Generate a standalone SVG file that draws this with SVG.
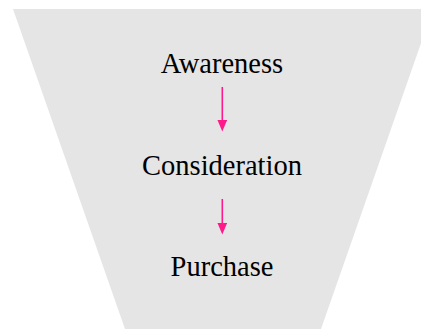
<svg xmlns="http://www.w3.org/2000/svg" width="421" height="329" viewBox="0 0 421 329">
  <style>
    .stage { font-family: "Liberation Serif", "Times New Roman", serif; font-size: 28.5px; fill: #000; text-anchor: middle; }
    .flow { stroke: #ff1a8c; stroke-width: 1.6; fill: none; }
  </style>
  <defs>
    <!-- downward arrowhead; the line stops 2px inside the head base -->
    <marker id="head" viewBox="0 0 11.5 9.7" refX="2" refY="4.85" markerWidth="11.5" markerHeight="9.7" markerUnits="userSpaceOnUse" orient="auto">
      <path d="M0,0 L11.5,4.85 L0,9.7 Z" fill="#ff1a8c"/>
    </marker>
  </defs>
  <rect width="421" height="329" fill="#ffffff"/>
  <!-- funnel body -->
  <polygon points="13,9 433,9 321,329 125,329" fill="#e5e5e5"/>
  <g id="awareness"><text class="stage" x="222" y="73">Awareness</text></g>
  <g id="consideration"><text class="stage" x="222" y="175">Consideration</text></g>
  <g id="purchase"><text class="stage" x="222" y="276">Purchase</text></g>
  <g id="connectors">
    <line class="flow" x1="222.3" y1="87" x2="222.3" y2="122" marker-end="url(#head)"/>
    <line class="flow" x1="222.3" y1="199" x2="222.3" y2="225" marker-end="url(#head)"/>
  </g>
</svg>
